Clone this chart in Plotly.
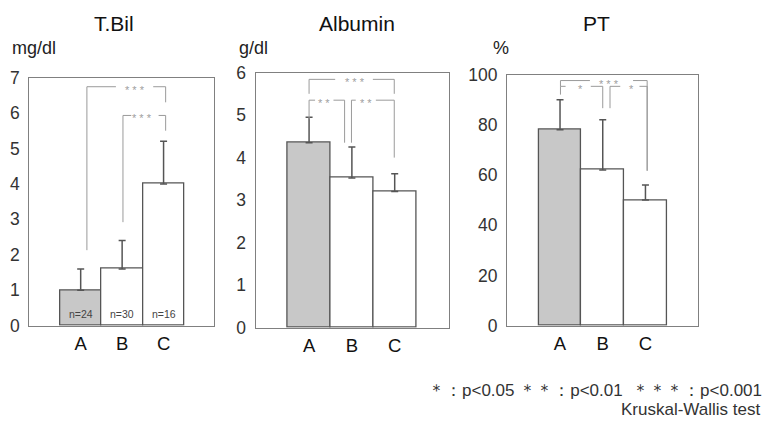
import plotly.graph_objects as go

W, H = 764, 426

categories = ["A", "B", "C"]
panel_titles = ["T.Bil", "Albumin", "PT"]
panel_units = ["mg/dl", "g/dl", "%"]

tbil_mean = [1.0, 1.6, 4.0]
tbil_upper = [1.6, 2.4, 5.2]
alb_mean = [4.35, 3.52, 3.2]
alb_upper = [4.95, 4.25, 3.62]
pt_mean = [78, 62, 50]
pt_upper = [90, 82, 56]

n_labels = ["n=24", "n=30", "n=16"]

y_max = [7, 6, 100]
y_dtick = [1, 1, 20]

# brackets: (x_left, x_right, y_top, y_left_bottom, y_right_bottom, label, label_x, gap_left, gap_right)
tbil_brackets = [
    (0.15, 2.05, 6.74, 2.13, 6.3, "* * *", 1.30, 0.85, 1.75),
    (1.02, 2.05, 5.93, 2.92, 5.5, "* * *", 1.49, 1.22, 1.88),
]
alb_brackets = [
    (0.0, 1.99, 5.84, 5.5, 5.5, "* * *", 1.08, 0.61, 1.49),
    (0.0, 0.83, 5.35, 4.9, 4.35, "* *", 0.36, 0.14, 0.57),
    (0.99, 1.99, 5.35, 4.35, 4.0, "* *", 1.33, 1.09, 1.56),
]
pt_brackets = [
    (0.01, 2.04, 97.6, 95.3, 61.7, "* * *", 1.15, 0.70, 1.71),
    (0.01, 1.0, 95.3, 92.0, 86.6, "*", 0.48, 0.13, 0.72),
    (1.17, 2.04, 95.3, 86.6, 61.7, "*", 1.67, 1.41, 1.86),
]

# target boxes in picture pixels (left, right, top, bottom)
boxes = [(32, 215, 76, 326), (256, 448, 71, 328), (505, 694, 73, 326)]
x_ranges = [[-1.24, 3.22], [-1.25, 3.28], [-1.24, 3.23]]

means = [tbil_mean, alb_mean, pt_mean]
uppers = [tbil_upper, alb_upper, pt_upper]
brackets = [tbil_brackets, alb_brackets, pt_brackets]

FONT = "Liberation Sans, Arial, sans-serif"
fill_colors = ["#c8c8c8", "#ffffff", "#ffffff"]

# map picture pixel positions to page pixels (capture scaling compensation)
def page_x(x):
    return (x - 3) / 0.99

def page_y(y):
    return (y - 8) / 0.96

def px(x):
    return min(max(page_x(x) / W, 0), 1)

def py(y):
    return min(max(1 - page_y(y) / H, 0), 1)

fig = go.Figure()
shapes = []
annotations = []

for i in range(3):
    sfx = "" if i == 0 else str(i + 1)
    xa, ya = "x" + sfx, "y" + sfx
    xpos = list(range(len(categories)))
    fig.add_trace(go.Bar(
        x=xpos, y=means[i], width=1.0,
        marker=dict(color=fill_colors, line=dict(color="#555555", width=1.3)),
        error_y=dict(type="data", symmetric=False,
                     array=[u - m for u, m in zip(uppers[i], means[i])],
                     arrayminus=[0] * 3, color="#555555", thickness=1.5, width=3.5),
        xaxis=xa, yaxis=ya, showlegend=False, hoverinfo="skip",
    ))
    l, r, t, b = boxes[i]
    fig.layout["xaxis" + sfx] = dict(
        domain=[px(l), px(r)], range=x_ranges[i], anchor=ya,
        tickvals=xpos, ticktext=categories, showgrid=False, zeroline=False,
        showline=True, mirror=True, linecolor="#808080", linewidth=1.3,
        ticks="outside", ticklen=1, tickcolor="rgba(0,0,0,0)",
        tickfont=dict(family=FONT, size=18.5, color="#111111"), fixedrange=True,
    )
    fig.layout["yaxis" + sfx] = dict(
        domain=[py(b), py(t)], range=[0, y_max[i]], anchor=xa, dtick=y_dtick[i],
        showgrid=False, zeroline=False, showline=True, mirror=True,
        linecolor="#808080", linewidth=1.3,
        ticks="outside", ticklen=5, tickcolor="rgba(0,0,0,0)",
        tickfont=dict(family=FONT, size=17.5, color="#333333"), fixedrange=True,
    )
    for (x0, x1, yt, yl, yr, lab, lx, g0, g1) in brackets[i]:
        line = dict(color="#9a9a9a", width=1)
        shapes.append(dict(type="line", xref=xa, yref=ya, x0=x0, x1=g0, y0=yt, y1=yt, line=line))
        shapes.append(dict(type="line", xref=xa, yref=ya, x0=g1, x1=x1, y0=yt, y1=yt, line=line))
        shapes.append(dict(type="line", xref=xa, yref=ya, x0=x0, x1=x0, y0=yt, y1=yl, line=line))
        shapes.append(dict(type="line", xref=xa, yref=ya, x0=x1, x1=x1, y0=yt, y1=yr, line=line))
        annotations.append(dict(x=lx, y=yt, xref=xa, yref=ya, text=lab, showarrow=False,
                                font=dict(family=FONT, size=11, color="#a0a0a0"),
                                yanchor="middle", yshift=-3))

# n labels in first panel
for j, nl in enumerate(n_labels):
    annotations.append(dict(x=j, y=0.34, xref="x", yref="y", text=nl, showarrow=False,
                            font=dict(family=FONT, size=10.5, color="#444444")))

title_x = [116, 356, 594]
unit_x = [13, 238, 489]
for i in range(3):
    annotations.append(dict(x=px(title_x[i]), y=py(22), xref="paper", yref="paper",
                            text=panel_titles[i], showarrow=False, xanchor="center", yanchor="middle",
                            font=dict(family=FONT, size=21, color="#111111")))
    annotations.append(dict(x=px(unit_x[i]), y=py(46), xref="paper", yref="paper",
                            text=panel_units[i], showarrow=False, xanchor="left", yanchor="middle",
                            font=dict(family=FONT, size=18, color="#222222")))

annotations.append(dict(x=px(760), y=py(391), xref="paper", yref="paper",
                        text="＊：p&lt;0.05 ＊＊：p&lt;0.01  ＊＊＊：p&lt;0.001", showarrow=False,
                        xanchor="right", yanchor="middle",
                        font=dict(family=FONT, size=17, color="#333333")))
annotations.append(dict(x=px(757), y=1 - 419.5 / H, xref="paper", yref="paper",
                        text="Kruskal-Wallis test", showarrow=False,
                        xanchor="right", yanchor="middle",
                        font=dict(family=FONT, size=17, color="#333333")))

fig.update_layout(
    width=W, height=H, margin=dict(l=0, r=0, t=0, b=0),
    paper_bgcolor="white", plot_bgcolor="white",
    shapes=shapes, annotations=annotations, bargap=0,
)

fig.write_html(
    "out.html",
    config={"displayModeBar": False},
    post_script="document.body.style.margin='0';document.body.style.overflow='hidden';",
)
